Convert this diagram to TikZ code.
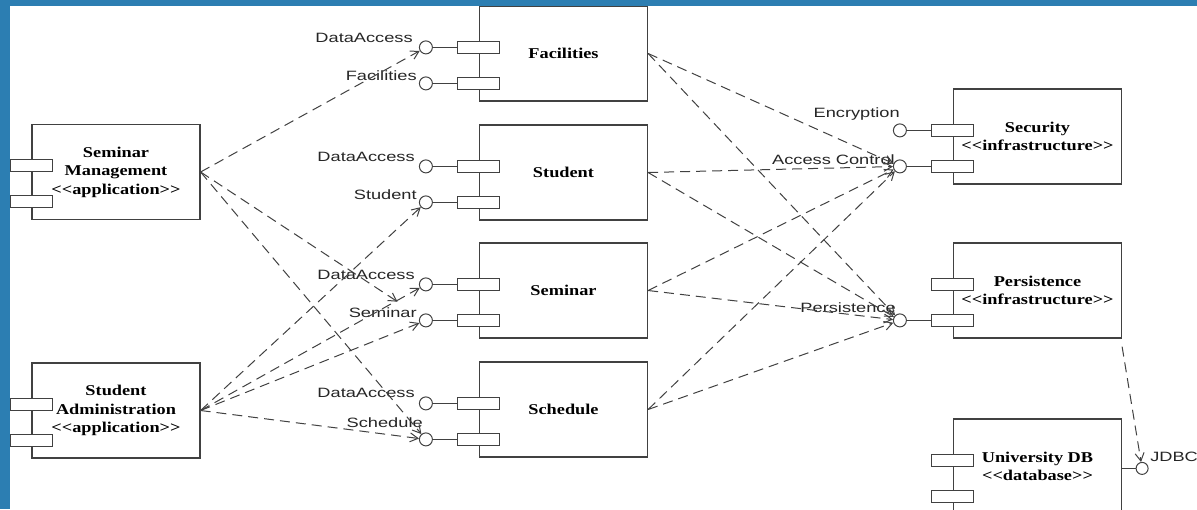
\documentclass[tikz,border=0pt]{standalone}
\usepackage{fontspec}
\setmainfont{Liberation Serif}
\newfontfamily\boxfont[FakeStretch=1.22]{Liberation Serif}
\newfontfamily\lblfont[FakeStretch=1.35]{Liberation Sans}
\usetikzlibrary{arrows.meta,calc}
\definecolor{bluebar}{RGB}{44,126,178}
\definecolor{linegray}{RGB}{65,65,65}
\newcommand\stype[1]{<\kern0pt<#1>\kern0pt>}

\tikzset{
  comp/.style={draw=linegray, line width=1.2pt, fill=white, minimum width=168pt,
    minimum height=95pt, inner sep=0pt, align=center,
    font=\boxfont\bfseries\fontsize{15}{18.5}\selectfont},
  port/.style={draw=linegray, line width=1pt, fill=white, minimum width=42pt,
    minimum height=12pt, inner sep=0pt},
  iface/.style={circle, draw=linegray, line width=1pt, fill=white,
    minimum size=13pt, inner sep=0pt},
  lbl/.style={anchor=base east, inner sep=0pt, text=black!85,
    font=\lblfont\fontsize{13.5}{16}\selectfont},
  dep/.style={draw=linegray, line width=1pt, dash pattern=on 10pt off 6pt, ->},
}

\begin{document}
\begin{tikzpicture}[x=1pt,y=-1pt,>={Straight Barb[length=8pt,width=9pt]}]
\useasboundingbox[fill=white] (0,0) rectangle (1197,509);

% components
\node[comp] (semmgmt) at (116,172) {Seminar\\Management\\\stype{application}};
\node[comp] (stuadm) at (116,410.5) {Student\\Administration\\\stype{application}};
\node[comp] (fac) at (563.5,53.5) {Facilities};
\node[comp] (stu) at (563.5,172.5) {Student};
\node[comp] (sem) at (563.5,290.5) {Seminar};
\node[comp] (sch) at (563.5,409.5) {Schedule};
\node[comp] (secu) at (1037.5,136.5) {Security\\\stype{infrastructure}};
\node[comp] (pers) at (1037.5,290.5) {Persistence\\\stype{infrastructure}};
\node[comp] (udb) at (1037.5,466.5) {University DB\\\stype{database}};

% ports on the left edge
\foreach \c in {semmgmt,stuadm,fac,stu,sem,sch,secu,pers,udb}
  \foreach \dy in {42,78}
    \node[port] (\c-p\dy) at ($(\c.north west)+(0,\dy)$) {};

% provided interfaces
\foreach \c/\a/\b in {fac/facDA/facIF,stu/stuDA/stuIF,sem/semDA/semIF,sch/schDA/schIF,secu/encr/accctl} {
  \node[iface] (\a) at ($(\c-p42)+(-53,0)$) {};
  \node[iface] (\b) at ($(\c-p78)+(-53,0)$) {};
  \draw[linegray, line width=1pt] (\a) -- (\c-p42);
  \draw[linegray, line width=1pt] (\b) -- (\c-p78);
}
\node[iface] (persIF) at ($(pers-p78)+(-53,0)$) {};
\draw[linegray, line width=1pt] (persIF) -- (pers-p78);
\node[iface, minimum size=12pt] (jdbc) at ($(udb.north east)+(20,50)$) {};
\coordinate (udbR) at (udb.north east |- jdbc);
\draw[linegray, line width=1pt] (udbR) -- (jdbc);

% interface names
\node[lbl] at ($(facDA)+(-13,-5)$) {DataAccess};
\node[lbl] at ($(facIF)+(-9,-3)$) {Facilities};
\node[lbl] at ($(stuDA)+(-11,-5)$) {DataAccess};
\node[lbl] at ($(stuIF)+(-9,-3)$) {Student};
\node[lbl] at ($(semDA)+(-11,-5)$) {DataAccess};
\node[lbl] at ($(semIF)+(-9,-3)$) {Seminar};
\node[lbl] at ($(schDA)+(-11,-6)$) {DataAccess};
\node[lbl] at ($(schIF)+(-3,-12)$) {Schedule};
\node[lbl] at ($(encr)+(0,-13)$) {Encryption};
\node[lbl] at ($(accctl)+(-5,-2)$) {Access Control};
\node[lbl] at ($(persIF)+(-4,-8)$) {Persistence};
\node[lbl, anchor=base west] at ($(jdbc)+(8,-7)$) {JDBC};

% dependencies
\draw[dep] (semmgmt.east) -- (facDA);
\draw[dep, shorten >=27pt] (semmgmt.east) -- (semIF);
\draw[dep] (semmgmt.east) -- (schIF);
\draw[dep] (stuadm.east) -- (stuIF);
\draw[dep] (stuadm.east) -- (semDA);
\draw[dep] (stuadm.east) -- (semIF);
\draw[dep] (stuadm.east) -- (schIF);
\foreach \c in {fac,stu,sem,sch} {
  \draw[dep] (\c.east) -- (accctl);
  \draw[dep] (\c.east) -- (persIF);
}
\draw[dep] ([yshift=-8pt]pers.south east) -- (jdbc);

% slide frame
\fill[bluebar] (0,0) rectangle (10,509);
\fill[bluebar] (0,0) rectangle (1197,6);
\end{tikzpicture}
\end{document}
